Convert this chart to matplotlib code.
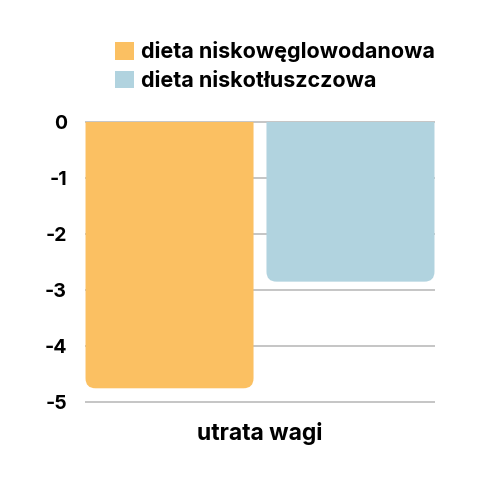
import matplotlib.pyplot as plt
from matplotlib.patches import FancyBboxPatch, Rectangle, Patch

plt.rcParams['font.family'] = ['Inter', 'DejaVu Sans']

categories = ['utrata wagi']
series = ['dieta niskowęglowodanowa', 'dieta niskotłuszczowa']
values = [[-4.75], [-2.85]]
colors = ['#FBC062', '#B1D3DF']
yticks = [0, -1, -2, -3, -4, -5]

fig = plt.figure(figsize=(4.88, 4.88), dpi=100)
ax = fig.add_axes([85 / 488, 1 - 404 / 488, 350 / 488, 284 / 488])
ax.set_xlim(-0.5, 0.5)
ax.set_ylim(-5.03, 0.03)

width = 0.48
gap = 0.037
offsets = [-(width + gap) / 2, (width + gap) / 2]

for y in yticks:
    ax.axhline(y, color='#BBBBBB', lw=1.2, zorder=1)

# aspect so rounding is circular on screen
bbox = ax.get_position()
px_per_x = bbox.width * 488 / 1.0
px_per_y = bbox.height * 488 / 5.06
clip = Rectangle((-0.5, -5.5), 1.0, 5.5, transform=ax.transData)

handles = []
for i, name in enumerate(series):
    for j, cat in enumerate(categories):
        x0 = j + offsets[i] - width / 2
        v = values[i][j]
        r = 10 / px_per_x
        p = FancyBboxPatch((x0, v), width, -v + 0.5,
                           boxstyle=f"round,pad=0,rounding_size={r}",
                           mutation_aspect=px_per_x / px_per_y,
                           fc=colors[i], ec='none', zorder=2)
        ax.add_patch(p)
        p.set_clip_path(clip)
    handles.append(Patch(fc=colors[i], ec='none', label=name))

ax.set_yticks(yticks)
ax.set_yticklabels([str(t) for t in yticks], fontsize=14, fontweight='bold')
ax.set_xticks(range(len(categories)))
ax.set_xticklabels(categories, fontsize=16.5, fontweight='bold')
ax.tick_params(axis='y', length=0, pad=13)
ax.tick_params(axis='x', length=0, pad=13)
for s in ax.spines.values():
    s.set_visible(False)

fig.legend(handles=handles, loc='upper left', bbox_to_anchor=(96 / 488, 1 - 22 / 488),
           frameon=False, prop={'weight': 'bold', 'size': 15.5},
           handlelength=0.85, handleheight=0.85, handletextpad=0.35, labelspacing=0.38)

fig.savefig('out.png', dpi=100)
